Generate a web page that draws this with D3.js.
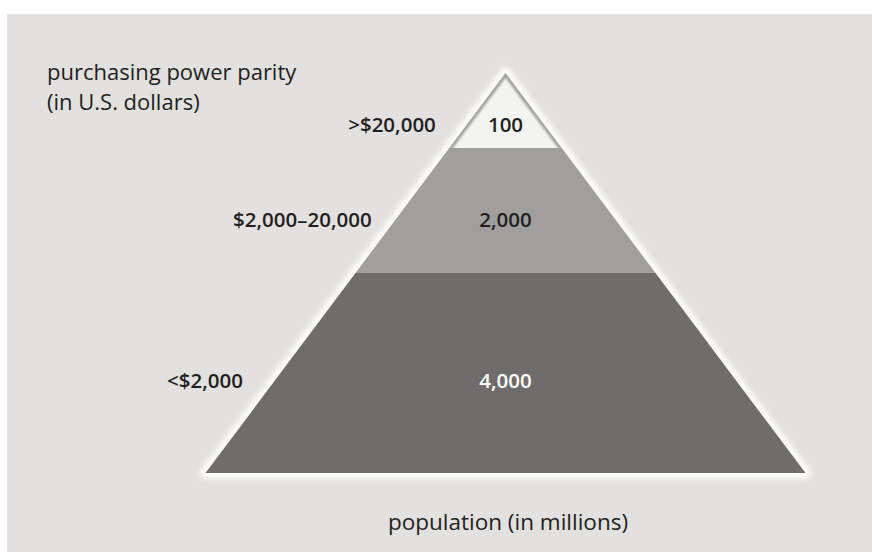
<!DOCTYPE html>
<html>
<head>
<meta charset="utf-8">
<script src="https://cdn.jsdelivr.net/npm/d3@7"></script>
<style>
  html, body { margin: 0; padding: 0; background: #fff; }
  svg { display: block; }
  text { font-family: "Open Sans", "Noto Sans", sans-serif; fill: #231f20; }
</style>
</head>
<body>
<div id="chart"></div>
<script>
// tiers from top to bottom
const incomeBands = ['>$20,000', '$2,000\u201320,000', '<$2,000']
const populations = [100, 2000, 4000]
const tierColors = ['#f3f3f2', '#a09f9e', '#6e6d6c']
const axisTitles = ['purchasing power parity', '(in U.S. dollars)']
const xTitle = 'population (in millions)'

const width = 872
const height = 552
// where each tier ends, as share of pyramid height (layout only)
const tierBreaks = [0, 0.1875, 0.5, 1]
// where the labels sit inside each tier, and gap to the pyramid edge
const labelPos = [0.687, 0.572, 0.5375]
const labelGap = [31, 24, 32]

const svg = d3.select('#chart').append('svg')
    .attr('width', width)
    .attr('height', height)

const defs = svg.append('defs')
defs.append('filter').attr('id', 'halo')
    .attr('x', '-10%').attr('y', '-10%').attr('width', '120%').attr('height', '120%')
    .append('feGaussianBlur').attr('stdDeviation', 2.6)
defs.append('filter').attr('id', 'soft')
    .append('feGaussianBlur').attr('stdDeviation', 1.2)

// backdrop
svg.append('rect')
    .attr('x', 7).attr('y', 14)
    .attr('width', width - 7).attr('height', height - 14)
    .attr('fill', '#e2e1df')

const cx = 505.5
const yScale = d3.scaleLinear().domain([0, 1]).range([73, 473])
const halfWidth = d3.scaleLinear().domain([0, 1]).range([0, 300])

const tiers = incomeBands.map((band, i) => ({
    band,
    pop: populations[i],
    color: tierColors[i],
    t0: tierBreaks[i],
    t1: tierBreaks[i + 1],
    tl: tierBreaks[i] + (tierBreaks[i + 1] - tierBreaks[i]) * labelPos[i]
}))

const tierPath = d => {
    const p = d3.path()
    p.moveTo(cx - halfWidth(d.t0), yScale(d.t0))
    p.lineTo(cx + halfWidth(d.t0), yScale(d.t0))
    p.lineTo(cx + halfWidth(d.t1), yScale(d.t1))
    p.lineTo(cx - halfWidth(d.t1), yScale(d.t1))
    p.closePath()
    return p.toString()
}

const outline = d3.line()([
    [cx, yScale(0)], [cx + halfWidth(1), yScale(1)], [cx - halfWidth(1), yScale(1)]
]) + 'Z'

// light glow around the pyramid
svg.append('path')
    .attr('d', outline)
    .attr('fill', 'none')
    .attr('stroke', '#fdfdfc')
    .attr('stroke-width', 11)
    .attr('stroke-linejoin', 'round')
    .attr('filter', 'url(#halo)')

const g = svg.append('g')

g.selectAll('path.tier')
    .data(tiers)
    .join('path')
    .attr('class', 'tier')
    .attr('d', tierPath)
    .attr('fill', d => d.color)

// grey shading inside the top tier edges
defs.append('clipPath').attr('id', 'topClip')
    .append('path').attr('d', tierPath(tiers[0]))
g.append('path')
    .attr('d', d3.line()([
        [cx - halfWidth(tiers[0].t1), yScale(tiers[0].t1)],
        [cx, yScale(0)],
        [cx + halfWidth(tiers[0].t1), yScale(tiers[0].t1)]
    ]))
    .attr('fill', 'none')
    .attr('stroke', '#a3a2a1')
    .attr('stroke-width', 6)
    .attr('clip-path', 'url(#topClip)')
    .attr('filter', 'url(#soft)')

// population values inside the tiers
svg.selectAll('text.pop')
    .data(tiers)
    .join('text')
    .attr('class', 'pop')
    .attr('x', cx)
    .attr('y', d => yScale(d.tl))
    .attr('dy', '0.36em')
    .attr('text-anchor', 'middle')
    .style('font-size', '20.5px')
    .style('font-weight', 600)
    .style('fill', (d, i) => i === 2 ? '#ffffff' : '#231f20')
    .text(d => d3.format(',')(d.pop))

// income band labels left of the pyramid
svg.selectAll('text.band')
    .data(tiers)
    .join('text')
    .attr('class', 'band')
    .attr('x', (d, i) => cx - halfWidth(d.tl) - labelGap[i])
    .attr('y', d => yScale(d.tl))
    .attr('dy', '0.36em')
    .attr('text-anchor', 'end')
    .style('font-size', '20.5px')
    .style('font-weight', 600)
    .text(d => d.band)

svg.selectAll('text.ytitle')
    .data(axisTitles)
    .join('text')
    .attr('class', 'ytitle')
    .attr('x', 47)
    .attr('y', (d, i) => 80 + i * 30)
    .style('font-size', '22px')
    .text(d => d)

svg.append('text')
    .attr('x', 508)
    .attr('y', 530)
    .attr('text-anchor', 'middle')
    .style('font-size', '22.5px')
    .text(xTitle)
</script>
</body>
</html>
